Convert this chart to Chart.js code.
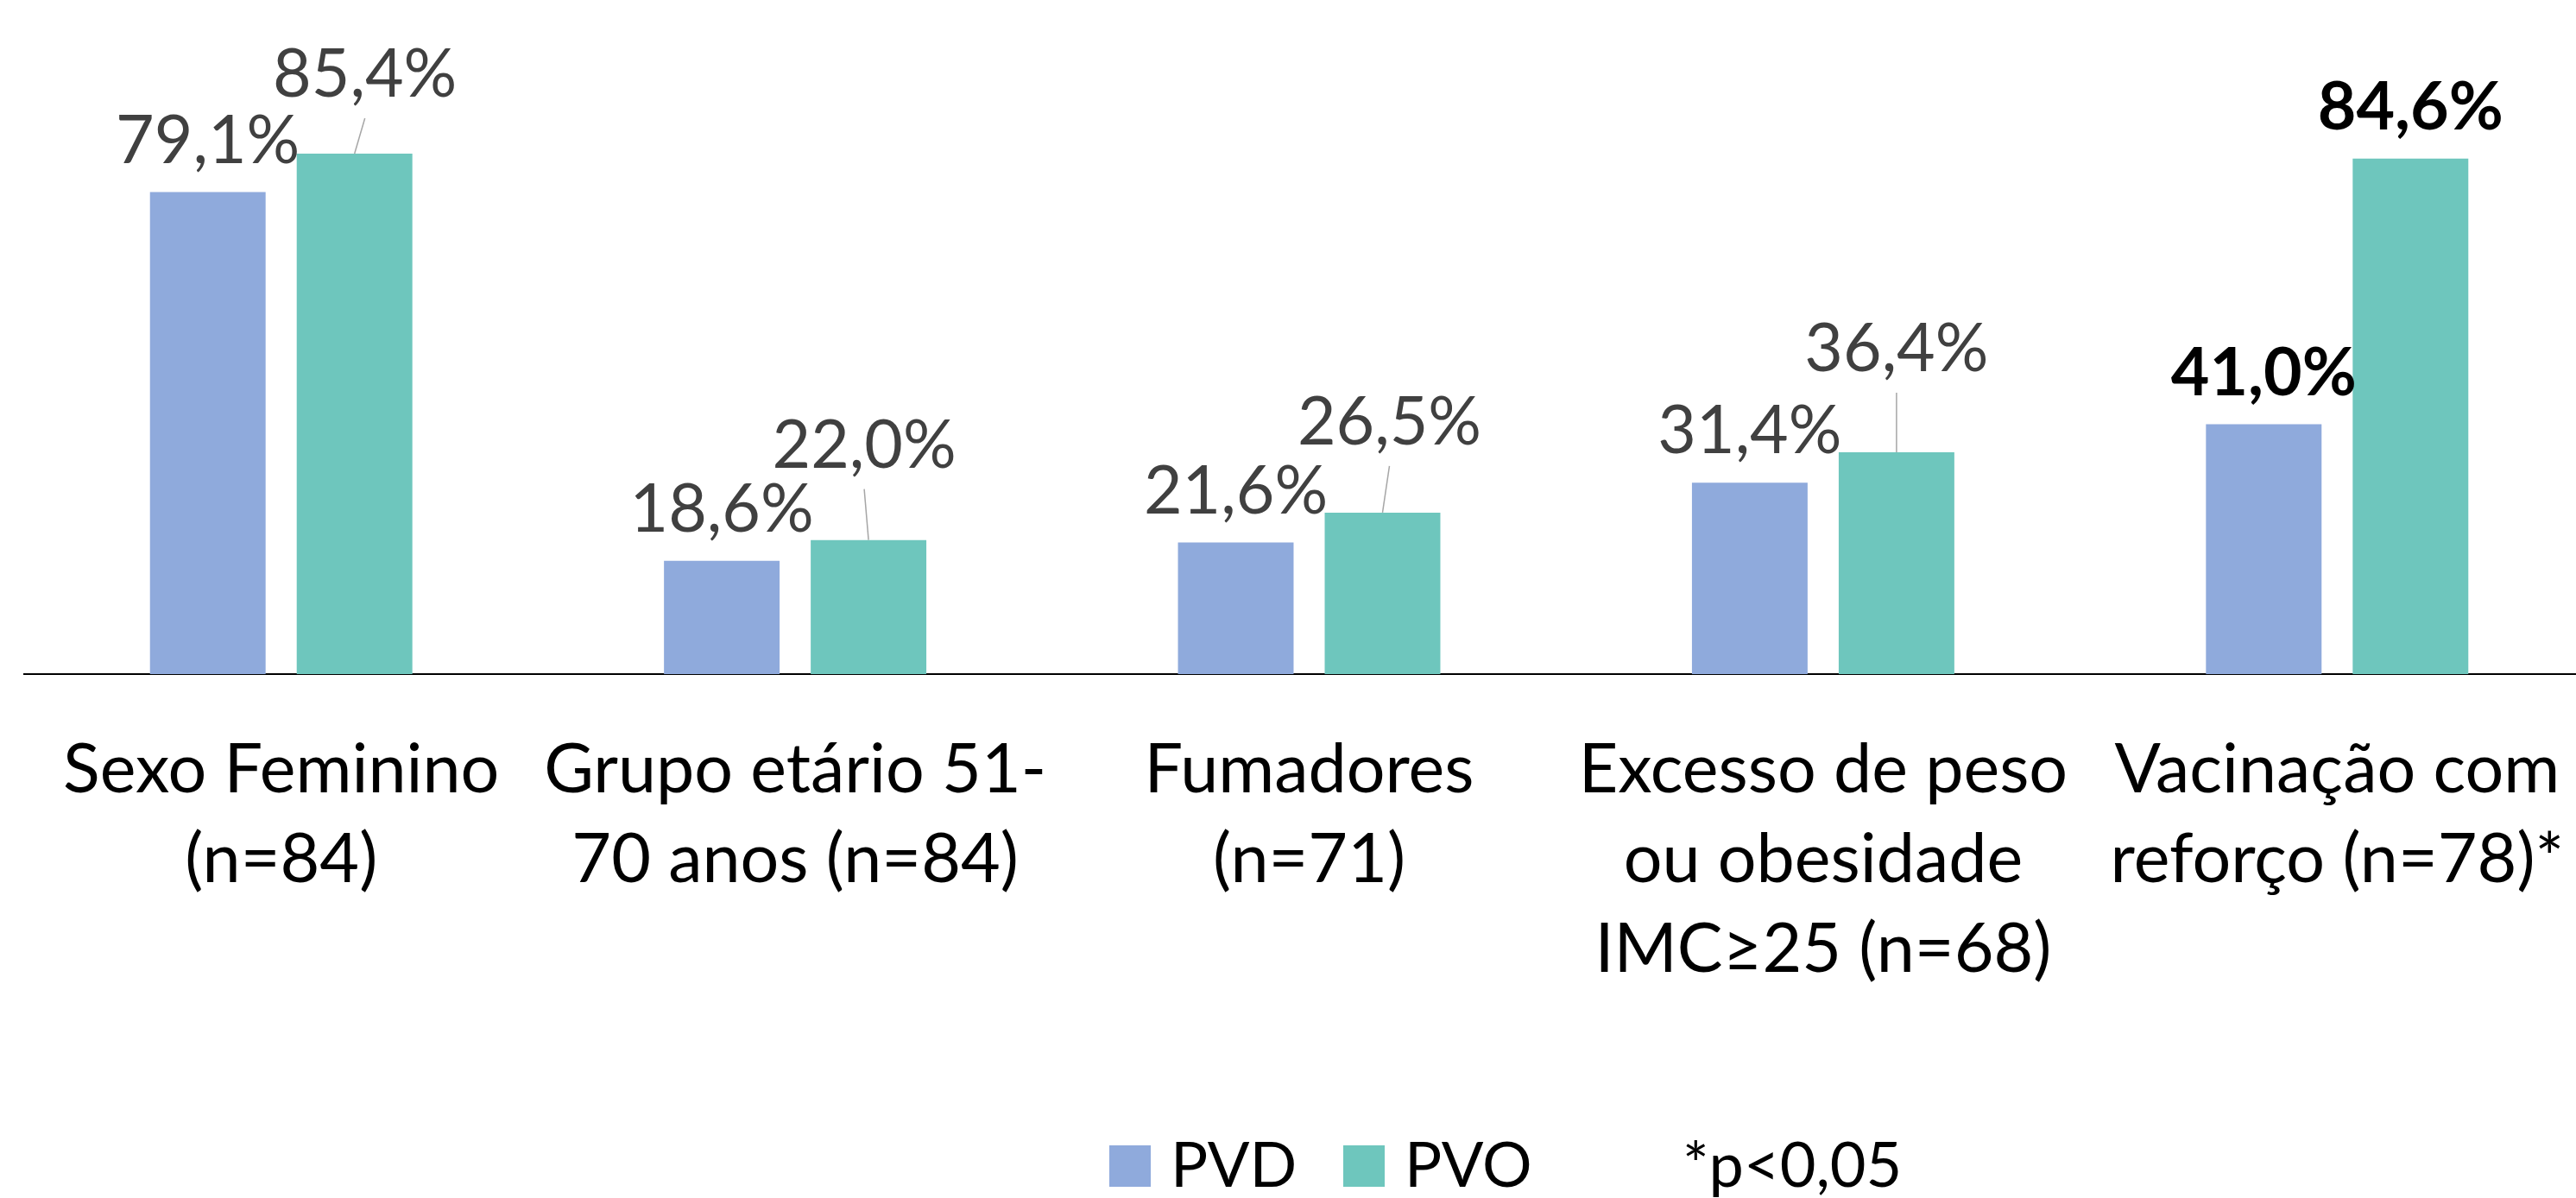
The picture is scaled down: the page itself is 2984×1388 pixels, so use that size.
<!DOCTYPE html>
<html>
<head>
<meta charset="utf-8">
<script src="https://cdn.jsdelivr.net/npm/chart.js@4.4.1/dist/chart.umd.min.js"></script>
<style>
  html, body { margin: 0; padding: 0; background: #ffffff; overflow: hidden; }
  #wrap { width: 2984px; height: 1388px; overflow: hidden; position: relative; }
  canvas { display: block; }
</style>
</head>
<body>
<div id="wrap"><canvas id="chart" width="3010" height="1388" style="width:3010px;height:1388px"></canvas></div>
<script>
// ---- Data ----
const categories = [
  ['Sexo Feminino', '(n=84)'],
  ['Grupo etário 51-', '70 anos (n=84)'],
  ['Fumadores', '(n=71)'],
  ['Excesso de peso', 'ou obesidade', 'IMC≥25 (n=68)'],
  ['Vacinação com', 'reforço (n=78)*']
];
const seriesNames = ['PVD', 'PVO'];
const pvdValues = [79.1, 18.6, 21.6, 31.4, 41.0];
const pvoValues = [85.4, 22.0, 26.5, 36.4, 84.6];
const significant = [false, false, false, false, true];
const footnote = '*p<0,05';

const colors = ['#8FAADC', '#6EC6BD'];
const FONT = 'Lato';

function fmt(v) { return v.toFixed(1).replace('.', ',') + '%'; }

// Value labels with optional leader lines (label offsets are layout, not data)
const valueLabels = {
  id: 'valueLabels',
  afterDatasetsDraw(chart, args, opts) {
    const ctx = chart.ctx;
    ctx.save();
    chart.data.datasets.forEach((ds, di) => {
      const meta = chart.getDatasetMeta(di);
      meta.data.forEach((bar, i) => {
        const v = ds.data[i];
        const off = (opts.offsets[di] && opts.offsets[di][i]) || [0, 0];
        const tx = bar.x + off[0];
        const ty = bar.y - opts.gap + off[1];
        if (off[1] !== 0) {
          ctx.beginPath();
          ctx.strokeStyle = opts.leaderColor;
          ctx.lineWidth = opts.leaderWidth;
          ctx.moveTo(bar.x, bar.y);
          ctx.lineTo(tx, ty + opts.leaderGap);
          ctx.stroke();
        }
        const bold = significant[i];
        ctx.font = (bold ? 'bold ' : '') + opts.size + 'px ' + FONT;
        ctx.fillStyle = bold ? '#000000' : '#404040';
        ctx.textAlign = 'center';
        ctx.textBaseline = 'alphabetic';
        ctx.fillText(fmt(v), tx, ty);
      });
    });
    ctx.restore();
  }
};

// Bottom legend with footnote
const bottomLegend = {
  id: 'bottomLegend',
  afterDraw(chart, args, opts) {
    const ctx = chart.ctx;
    ctx.save();
    ctx.font = opts.size + 'px ' + FONT;
    ctx.textAlign = 'left';
    ctx.textBaseline = 'alphabetic';
    const base = opts.baseline;
    chart.data.datasets.forEach((ds, di) => {
      const x = opts.x + opts.itemOffsets[di];
      ctx.fillStyle = ds.backgroundColor;
      ctx.fillRect(x, base - opts.box, opts.box, opts.box);
      ctx.fillStyle = '#000000';
      ctx.fillText(ds.label, x + opts.box + opts.boxGap, base);
    });
    ctx.fillStyle = '#000000';
    ctx.fillText(footnote, opts.x + opts.noteOffset, base);
    ctx.restore();
  }
};

function build() {
  const ctx = document.getElementById('chart').getContext('2d');
  new Chart(ctx, {
    type: 'bar',
    data: {
      labels: categories,
      datasets: [
        { label: seriesNames[0], data: pvdValues, backgroundColor: colors[0],
          barPercentage: 0.788, categoryPercentage: 0.571 },
        { label: seriesNames[1], data: pvoValues, backgroundColor: colors[1],
          barPercentage: 0.788, categoryPercentage: 0.571 }
      ]
    },
    options: {
      responsive: false,
      animation: false,
      layout: { padding: { top: 75, left: 28, right: 5, bottom: 0 } },
      plugins: {
        legend: { display: false },
        tooltip: { enabled: false },
        valueLabels: {
          size: 77,
          gap: 34,
          leaderGap: 25,
          leaderColor: '#A6A6A6',
          leaderWidth: 1.5,
          offsets: [
            [[0,0],[0,0],[0,0],[0,0],[0,0]],
            [[12,-32],[-5,-50],[8,-45],[0,-60],[0,0]]
          ]
        },
        bottomLegend: {
          size: 72, x: 1285, baseline: 1375, box: 48, boxGap: 23,
          itemOffsets: [0, 271], noteOffset: 664
        }
      },
      scales: {
        x: {
          grid: {
            display: true, drawOnChartArea: false, drawTicks: true,
            tickLength: 60, color: 'rgba(0,0,0,0)'
          },
          border: { display: true, color: '#000000', width: 2 },
          ticks: {
            color: '#000000',
            padding: 0,
            maxRotation: 0,
            autoSkip: false,
            font: { family: FONT, size: 79, lineHeight: '104px' }
          },
          afterFit(scale) { scale.height = 607; }
        },
        y: {
          display: false,
          min: 0,
          max: 100
        }
      }
    },
    plugins: [valueLabels, bottomLegend]
  });
}

if (document.fonts && document.fonts.load) {
  Promise.all([
    document.fonts.load('75px Lato'),
    document.fonts.load('bold 75px Lato')
  ]).then(build, build);
} else {
  build();
}
</script>
</body>
</html>
